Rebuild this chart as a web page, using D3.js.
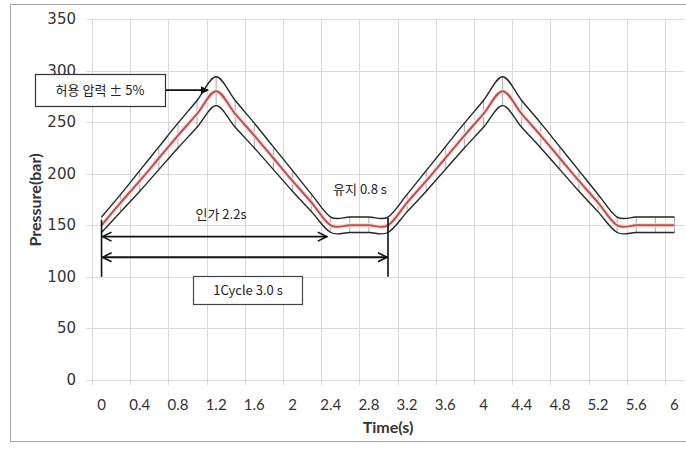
<!DOCTYPE html>
<meta charset="utf-8">
<style>
body {margin: 0; background: #fff;}
.grid line {stroke: #d9d9d9; stroke-width: 1;}
.ylab {font: 15px "DejaVu Sans", sans-serif; fill: #333;}
.xlab {font: 15px Lato, sans-serif; fill: #333;}
.title {font: bold 16px Lato, sans-serif; fill: #333;}
.note {font: 13px "Noto Sans CJK KR", sans-serif; fill: #222;}
</style>
<html>
<body>
<script src="https://cdn.jsdelivr.net/npm/d3@7"></script>
<script>
var width = 686,
    height = 452;

// time categories (s), every 0.2 s
var times = ["0", "0.2", "0.4", "0.6", "0.8", "1", "1.2", "1.4", "1.6", "1.8", "2", "2.2",
             "2.4", "2.6", "2.8", "3", "3.2", "3.4", "3.6", "3.8", "4", "4.2", "4.4", "4.6",
             "4.8", "5", "5.2", "5.4", "5.6", "5.8", "6"];
var tickLabels = ["0", "0.4", "0.8", "1.2", "1.6", "2", "2.4", "2.8", "3.2", "3.6", "4",
                  "4.4", "4.8", "5.2", "5.6", "6"];
// set pressure (bar)
var pressure = [150, 172, 193, 215, 237, 258, 280, 258, 237, 215, 193, 172, 150, 150, 150, 150,
                172, 193, 215, 237, 258, 280, 258, 237, 215, 193, 172, 150, 150, 150, 150];
// +5% / -5% limits
var upper = [158, 180, 203, 226, 249, 271, 294, 271, 249, 226, 203, 180, 158, 158, 158, 158,
             180, 203, 226, 249, 271, 294, 271, 249, 226, 203, 180, 158, 158, 158, 158];
var lower = [143, 163, 183, 204, 225, 245, 266, 245, 225, 204, 183, 163, 143, 143, 143, 143,
             163, 183, 204, 225, 245, 266, 245, 225, 204, 183, 163, 143, 143, 143, 143];
var yTicks = [0, 50, 100, 150, 200, 250, 300, 350];

var svg = d3.select("body").append("svg")
    .attr("width", width)
    .attr("height", height);

var plotLeft = 92, plotRight = 684, plotTop = 19, plotBottom = 380;

var x = d3.scaleBand().domain(times).range([plotLeft, plotRight]).padding(0);
var y = d3.scaleLinear().domain([0, 350]).range([plotBottom, plotTop]);
var cx = function(t) { return x(t) + x.bandwidth() / 2; };

// outer frame
svg.append("rect")
    .attr("x", 10.5).attr("y", 4.5)
    .attr("width", 700).attr("height", 437)
    .attr("fill", "none").attr("stroke", "#a6a6a6");

// horizontal grid
var g = svg.append("g").attr("class", "grid");
g.selectAll(".h").data(yTicks).enter().append("line")
    .attr("x1", plotLeft - 6).attr("x2", plotRight)
    .attr("y1", function(d) { return Math.round(y(d)) + 0.5; })
    .attr("y2", function(d) { return Math.round(y(d)) + 0.5; });
// vertical grid, one every other category
g.selectAll(".v").data(tickLabels).enter().append("line")
    .attr("x1", function(d) { return Math.round(x(d)) + 0.5; })
    .attr("x2", function(d) { return Math.round(x(d)) + 0.5; })
    .attr("y1", plotTop).attr("y2", plotBottom + 5);

// y labels
svg.selectAll(".ylab").data(yTicks).enter().append("text")
    .attr("class", "ylab")
    .attr("x", 76).attr("y", function(d) { return y(d) + 5; })
    .attr("text-anchor", "end")
    .text(function(d) { return d; });

// x labels
svg.selectAll(".xlab").data(tickLabels).enter().append("text")
    .attr("class", "xlab")
    .attr("x", function(d) { return cx(d); }).attr("y", 410)
    .attr("text-anchor", "middle")
    .text(function(d) { return d; });

svg.append("text").attr("class", "title")
    .attr("x", 388).attr("y", 433).attr("text-anchor", "middle")
    .text("Time(s)");
svg.append("text").attr("class", "title")
    .attr("transform", "translate(41,200) rotate(-90)")
    .attr("text-anchor", "middle")
    .text("Pressure(bar)");

// error bars at each point
svg.selectAll(".eb").data(times).enter().append("line")
    .attr("x1", function(d) { return cx(d); })
    .attr("x2", function(d) { return cx(d); })
    .attr("y1", function(d, i) { return y(upper[i]); })
    .attr("y2", function(d, i) { return y(lower[i]); })
    .attr("stroke", "#888").attr("stroke-width", 0.7);

var line = function(vals) {
    return d3.line()
        .x(function(d, i) { return cx(times[i]); })
        .y(function(d) { return y(d); })
        .curve(d3.curveCatmullRom.alpha(0))(vals);
};

svg.append("path").attr("d", line(upper))
    .attr("fill", "none").attr("stroke", "#1e2a22").attr("stroke-width", 1.4);
svg.append("path").attr("d", line(lower))
    .attr("fill", "none").attr("stroke", "#1e2a22").attr("stroke-width", 1.4);
svg.append("path").attr("d", line(pressure))
    .attr("fill", "none").attr("stroke", "#f7e0df").attr("stroke-width", 4.5);
svg.append("path").attr("d", line(pressure))
    .attr("fill", "none").attr("stroke", "#c0504d").attr("stroke-width", 2);

// arrow markers
var defs = svg.append("defs");
defs.append("marker").attr("id", "tri")
    .attr("viewBox", "0 -5 10 10").attr("refX", 9).attr("refY", 0)
    .attr("markerWidth", 5).attr("markerHeight", 5).attr("orient", "auto")
    .append("path").attr("d", "M0,-5L10,0L0,5Z").attr("fill", "#111");
defs.append("marker").attr("id", "open")
    .attr("viewBox", "0 -6 12 12").attr("refX", 11).attr("refY", 0)
    .attr("markerWidth", 6).attr("markerHeight", 6).attr("orient", "auto-start-reverse")
    .append("path").attr("d", "M1,-5L11,0L1,5").attr("fill", "none")
    .attr("stroke", "#111").attr("stroke-width", 1.8);

// tolerance note
svg.append("rect").attr("x", 35.5).attr("y", 74.5).attr("width", 130).attr("height", 32)
    .attr("fill", "#fff").attr("stroke", "#333").attr("stroke-width", 1.2);
svg.append("text").attr("class", "note")
    .attr("x", 100).attr("y", 95).attr("text-anchor", "middle")
    .text("허용 압력 ± 5%");
svg.append("line")
    .attr("x1", 166).attr("x2", cx("1.2") - 8)
    .attr("y1", y(281)).attr("y2", y(281))
    .attr("stroke", "#111").attr("stroke-width", 1.6)
    .attr("marker-end", "url(#tri)");

// cycle dimension lines
svg.append("line")
    .attr("x1", cx("0")).attr("x2", cx("0"))
    .attr("y1", y(155)).attr("y2", y(100))
    .attr("stroke", "#111").attr("stroke-width", 1.6);
svg.append("line")
    .attr("x1", cx("3")).attr("x2", cx("3"))
    .attr("y1", y(157)).attr("y2", y(100))
    .attr("stroke", "#111").attr("stroke-width", 1.6);
svg.append("line")
    .attr("x1", cx("0") + 1).attr("x2", cx("2.4") - 4)
    .attr("y1", y(139)).attr("y2", y(139))
    .attr("stroke", "#111").attr("stroke-width", 1.8)
    .attr("marker-start", "url(#open)").attr("marker-end", "url(#open)");
svg.append("line")
    .attr("x1", cx("0") + 1).attr("x2", cx("3") - 1)
    .attr("y1", y(119)).attr("y2", y(119))
    .attr("stroke", "#111").attr("stroke-width", 1.8)
    .attr("marker-start", "url(#open)").attr("marker-end", "url(#open)");

svg.append("text").attr("class", "note")
    .attr("x", 221).attr("y", 219).attr("text-anchor", "middle")
    .text("인가 2.2s");
svg.append("text").attr("class", "note")
    .attr("x", 360).attr("y", 194).attr("text-anchor", "middle")
    .text("유지 0.8 s");

svg.append("rect").attr("x", 193.5).attr("y", 276.5).attr("width", 109).attr("height", 28)
    .attr("fill", "#fff").attr("stroke", "#444").attr("stroke-width", 1.2);
svg.append("text").attr("class", "note")
    .attr("x", 248).attr("y", 295).attr("text-anchor", "middle")
    .text("1Cycle 3.0 s");
</script>
</body>
</html>
